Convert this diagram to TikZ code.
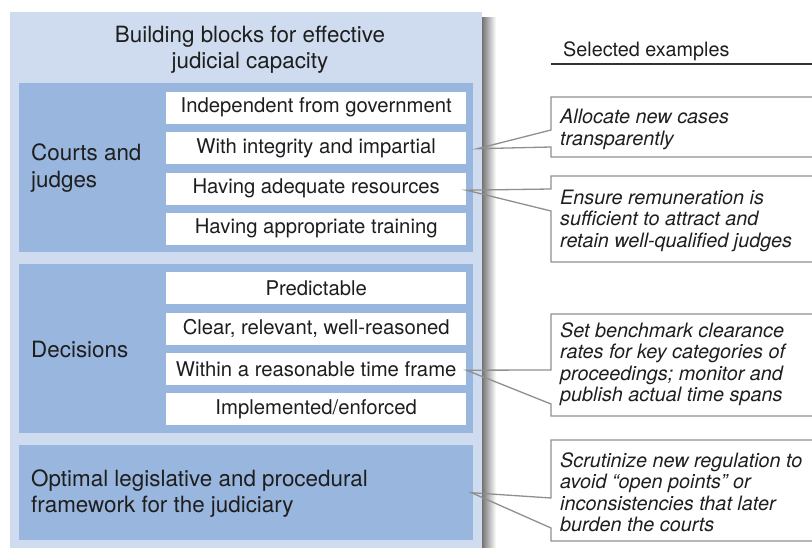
\documentclass[tikz,border=0pt]{standalone}
\usepackage{fontspec}
\setmainfont{TeX Gyre Heros}
\usetikzlibrary{calc}
\definecolor{outerblue}{HTML}{CFDCEF}
\definecolor{groupblue}{HTML}{99B6DE}
\definecolor{txt}{HTML}{1E1E1E}
\definecolor{callgray}{HTML}{8F8F8F}
\begin{document}
\begin{tikzpicture}[x=1pt,y=-1pt,
  every node/.style={text=txt},
  basefont/.style={font=\fontsize{20.3}{26}\selectfont},
  item/.style={basefont, fill=white, minimum width=300pt, minimum height=32pt, inner sep=0pt, anchor=north west},
  grp/.style={fill=groupblue, inner sep=0pt, anchor=north west, minimum width=454pt},
  lbl/.style={font=\fontsize{22.4}{27}\selectfont, anchor=west, align=left, inner sep=0pt},
  ctext/.style={font=\fontsize{19.8}{21.5}\selectfont\itshape, anchor=west, align=left, inner sep=0pt},
  callout/.style={draw=callgray, line width=1.3pt, line join=miter}
]
\useasboundingbox (0,0) rectangle (812,548);
% shadow and outer panel
\shade[left color=black!55, right color=white] (482,18) rectangle (496,560);
\node[fill=outerblue, inner sep=0pt, anchor=north west, minimum width=472pt, minimum height=548pt] (outer) at (10,12) {};
\node[font=\fontsize{22.4}{26}\selectfont, align=center, inner sep=0pt] (title) at (250,49.5) {Building blocks for effective\\judicial capacity};
% groups
\node[grp, minimum height=169pt] (g1) at (19,83) {};
\node[grp, minimum height=169pt] (g2) at (19,264) {};
\node[grp, minimum height=95pt] (g3) at (19,445) {};
\node[lbl] (l1) at (31,168.5) {Courts and\\judges};
\node[lbl] (l2) at (31,350) {Decisions};
\node[lbl, font=\fontsize{22.4}{26}\selectfont] (l3) at (31,494) {Optimal legislative and procedural\\framework for the judiciary};
% items
\node[item] (b1) at (166,91.5) {Independent from government};
\node[item] (b2) at (166,132) {With integrity and impartial};
\node[item] (b3) at (166,172.5) {Having adequate resources};
\node[item] (b4) at (166,212.5) {Having appropriate training};
\node[item] (b5) at (166,272) {Predictable};
\node[item] (b6) at (166,312.5) {Clear, relevant, well-reasoned};
\node[item] (b7) at (166,353) {Within a reasonable time frame};
\node[item] (b8) at (166,393) {Implemented/enforced};
% header
\node[font=\fontsize{19.8}{24}\selectfont, anchor=west, inner sep=0pt] (sel) at (563,51) {Selected examples};
\coordinate (u1) at (551,64);
\coordinate (u2) at (812,64);
\draw[line width=2pt, black!80] (u1) -- (u2);
% callout tips
\coordinate (t1) at ($(b2.east)+(11,0.5)$);
\coordinate (t2) at ($(b3.east)+(0,1.5)$);
\coordinate (t3) at ($(b7.east)+(0,1)$);
\coordinate (t4) at ($(g3.east)+(-2,0)$);
\draw[callout] (820,97) -- (551,97) -- (551,130) -- (t1) -- (551,147) -- (551,157) -- (820,157);
\draw[callout] (820,176) -- (551,176) -- (551,189) -- (t2) -- (551,211) -- (551,262) -- (820,262);
\draw[callout] (820,314) -- (551,314) -- (551,370) -- (t3) -- (551,404) -- (551,416) -- (820,416);
\draw[callout] (820,440) -- (551,440) -- (551,498) -- (t4) -- (551,528) -- (551,541) -- (820,541);
% callout texts
\node[ctext] (c1) at (560,129.5) {Allocate new cases\\transparently};
\node[ctext] (c2) at (560,220.5) {Ensure remuneration is\\sufficient to attract and\\retain well-qualified judges};
\node[ctext] (c3) at (560,364) {Set benchmark clearance\\rates for key categories of\\proceedings; monitor and\\publish actual time spans};
\node[ctext] (c4) at (560,492.5) {Scrutinize new regulation to\\avoid “open points” or\\inconsistencies that later\\burden the courts};
\end{tikzpicture}
\end{document}
